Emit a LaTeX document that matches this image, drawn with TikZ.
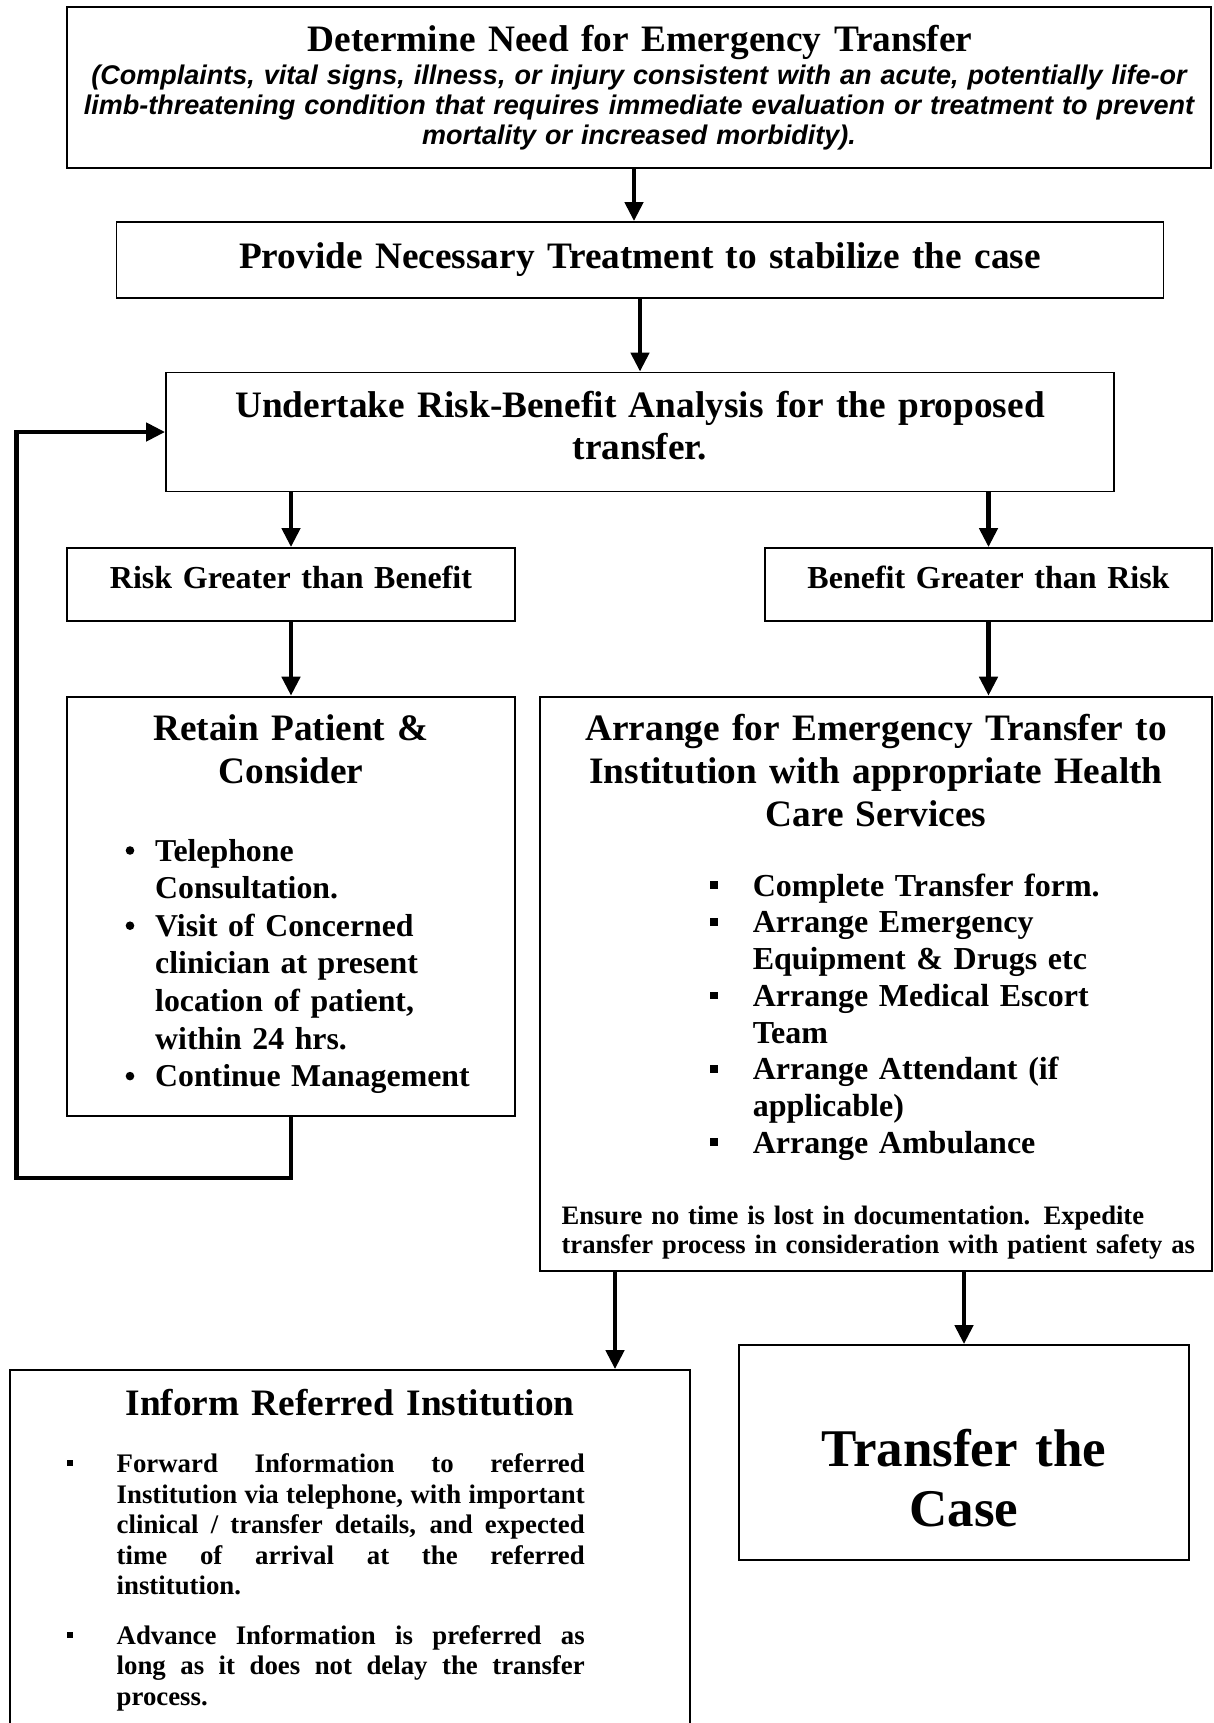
\documentclass[tikz,border=0pt]{standalone}
\usepackage{fontspec}
\setmainfont{Liberation Serif}
\newfontfamily\helvbi{Liberation Sans}
\usetikzlibrary{arrows.meta,calc}
\newcommand{\fsz}[2]{\fontsize{#1}{#2}\selectfont}
\hyphenpenalty=10000
\exhyphenpenalty=10000
\begin{document}
\begin{tikzpicture}[x=1pt,y=-1pt,
  box/.style={draw=black, line width=1.8pt, rectangle, inner sep=0pt},
  txt/.style={inner sep=0pt, anchor=base, align=center},
  itemtxt/.style={inner sep=0pt, anchor=base west, align=left},
  arr/.style={line width=4.5pt, -{Triangle[width=18pt,length=19pt]}},
  head/.style={font={\bfseries\fsz{37.3}{41.5}}},
  sqmark/.style={fill=black}
]
\useasboundingbox (0,0) rectangle (1213,1723);
\clip (0,0) rectangle (1213,1723);

% ---- boxes ----
\node[box, minimum width=1144pt, minimum height=161pt] (b1) at (639,87.5) {};
\node[box, minimum width=1047pt, minimum height=76pt] (b2) at (640,260) {};
\node[box, minimum width=948pt, minimum height=119pt] (b3) at (640,432) {};
\node[box, minimum width=448pt, minimum height=73pt] (b4l) at (291,584.5) {};
\node[box, minimum width=447pt, minimum height=73pt] (b4r) at (988.5,584.5) {};
\node[box, minimum width=448pt, minimum height=419.7pt] (b5l) at (291,906.45) {};
\node[box, minimum width=672pt, minimum height=574.4pt] (b5r) at (876,983.8) {};
\node[box, minimum width=680pt, minimum height=390pt] (b6l) at (350,1565) {};
\node[box, minimum width=450pt, minimum height=215pt] (b6r) at (964,1452.5) {};

% ---- top box ----
\node[txt, head, text width=1120pt] (t1) at (640,51.8) {Determine Need for Emergency Transfer};
\node[txt, text width=1140pt, font={\helvbi\bfseries\itshape\fsz{27}{30}}] (t1s) at (639,85)
  {(Complaints, vital signs, illness, or injury consistent with an acute, potentially life-or\\
   limb-threatening condition that  requires immediate evaluation or treatment to prevent\\
   mortality or increased morbidity).};

% ---- treatment / analysis ----
\node[txt, head, text width=1040pt] (t2) at (640,268) {Provide Necessary Treatment to stabilize the case};
\node[txt, text width=940pt, font={\bfseries\fsz{37.3}{41.3}}] (t3) at (640,417.7)
  {Undertake Risk-Benefit Analysis for the proposed\\ transfer.};

\node[txt, text width=440pt, font={\bfseries\fsz{32}{36}}] (t4l) at (291,588.6) {Risk Greater than Benefit};
\node[txt, text width=440pt, font={\bfseries\fsz{32}{36}}] (t4r) at (988.5,588.6) {Benefit Greater than Risk};

% ---- retain patient ----
\node[txt, text width=440pt, font={\bfseries\fsz{37.3}{42.9}}] (t5l) at (291,740.7) {Retain Patient \&\\ Consider};
\begin{scope}[every node/.style={itemtxt, text width=355pt, font={\bfseries\fsz{31.8}{37.6}}}]
  \node (l1) at (155,861) {Telephone\\ Consultation.};
  \node (l2) at (155,936.2) {Visit of Concerned\\ clinician at present\\ location of patient,\\ within 24 hrs.};
  \node (l3) at (155,1086.6) {Continue Management};
\end{scope}
\foreach \n in {l1,l2,l3}
  \fill ($(\n.base west)+(-25,-10.5)$) circle (4.3pt);

% ---- arrange transfer ----
\node[txt, text width=660pt, font={\bfseries\fsz{37.3}{42.7}}] (t5r) at (876,740.7)
  {Arrange for Emergency Transfer to\\ Institution with appropriate Health\\ Care Services};
\begin{scope}[every node/.style={itemtxt, text width=450pt, font={\bfseries\fsz{32}{36.7}}}]
  \node (r1) at (752.6,896.2) {Complete Transfer form.};
  \node (r2) at (752.6,932.9) {Arrange Emergency\\ Equipment \& Drugs etc};
  \node (r3) at (752.6,1006.3) {Arrange Medical Escort\\ Team};
  \node (r4) at (752.6,1079.7) {Arrange Attendant (if\\ applicable)};
  \node (r5) at (752.6,1153.1) {Arrange Ambulance};
\end{scope}
\foreach \n in {r1,r2,r3,r4,r5}
  \fill[sqmark] ($(\n.base west)+(-42.4,-14.8)$) rectangle ++(7.6,7.6);
\node[itemtxt, text width=645pt, font={\bfseries\fsz{26.6}{29}}] (ens) at (561.4,1224)
  {Ensure no time is lost in documentation. Expedite\\ transfer process in consideration with patient safety as};

% ---- inform referred institution ----
\node[txt, head, text width=660pt] (t6l) at (350,1415) {Inform Referred Institution};
\begin{scope}[every node/.style={inner sep=0pt, anchor=base west, text width=468pt, align=justify}]
  \node[font={\bfseries\fsz{26.8}{30.5}}] (p1) at (116.5,1472.6)
    {Forward Information to referred\linebreak Institution via telephone, with important\linebreak
     clinical / transfer details, and expected\linebreak time of arrival at the referred\linebreak institution.};
  \node[font={\bfseries\fsz{26.8}{30.7}}] (p2) at (116.5,1644)
    {Advance Information is preferred as\linebreak long as it does not delay the transfer\linebreak process.};
\end{scope}
\foreach \n in {p1,p2}
  \fill[sqmark] ($(\n.base west)+(-49.5,-12.5)$) rectangle ++(6.2,6.2);

% ---- transfer the case ----
\node[txt, text width=440pt, font={\bfseries\fsz{53}{60.6}}] (t6r) at (964,1466) {Transfer the\\ Case};

% ---- connectors ----
\coordinate (a1) at (634,0);
\coordinate (a6) at (615,0);
\coordinate (loopc) at (16.5,1178);
\draw[arr] (b1.south -| a1) -- (b2.north -| a1);
\draw[arr] (b2.south) -- (b3.north);
\draw[arr] (b3.south -| b4l.north) -- (b4l.north);
\draw[arr] (b3.south -| b4r.north) -- (b4r.north);
\draw[arr] (b4l.south) -- (b5l.north);
\draw[arr] (b4r.south) -- (b4r.south |- b5r.north);
\draw[arr] (b5r.south -| a6) -- (b6l.north -| a6);
\draw[arr] (b5r.south -| b6r.north) -- (b6r.north);
\draw[arr] (b5l.south) |- (loopc) |- (b3.west);
\end{tikzpicture}
\end{document}
